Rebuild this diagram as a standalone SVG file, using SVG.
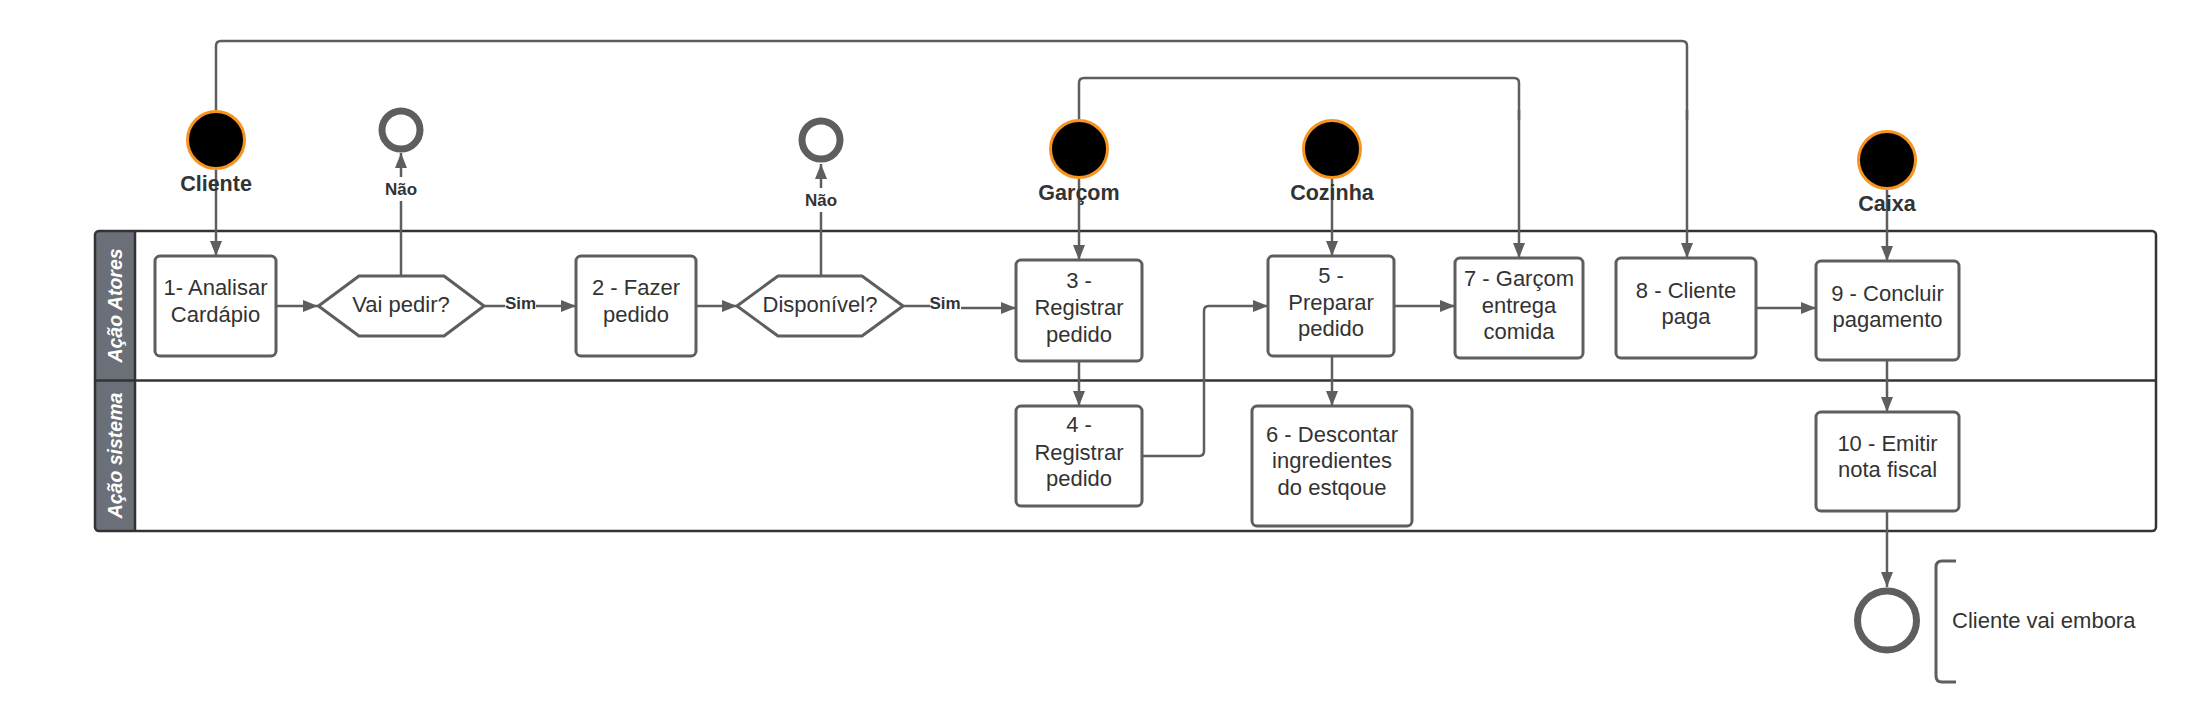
<svg xmlns="http://www.w3.org/2000/svg" width="2196" height="721" viewBox="0 0 2196 721">
<style>
text{font-family:"Liberation Sans",Arial,sans-serif;fill:#333}
.t{font-size:22px;text-anchor:middle}
.lbl{font-size:17px;font-weight:bold;text-anchor:middle}
.actor{font-size:21.5px;font-weight:bold;text-anchor:middle}
.lane{font-size:19.5px;font-weight:bold;font-style:italic;fill:#fff;text-anchor:middle}
.box{fill:#fff;stroke:#5e5e5e;stroke-width:3}
.start{fill:#000;stroke:#f7931e;stroke-width:3}
.end{fill:#fff;stroke:#5e5e5e;stroke-width:7}
.c{fill:none;stroke:#5e5e5e;stroke-width:2.5;stroke-linejoin:round}
.a{marker-end:url(#arr)}
.bg{fill:#fff}
</style>
<defs>
<marker id="arr" markerUnits="userSpaceOnUse" markerWidth="16" markerHeight="14" refX="15" refY="6" orient="auto">
<path d="M0,0 L15,6 L0,12 z" fill="#5e5e5e"/>
</marker>
</defs>
<rect width="2196" height="721" fill="#fff"/>

<g id="pool">
<path d="M99,231 H135 V531 H99 Q95,531 95,527 V235 Q95,231 99,231 z" fill="#6b6f77"/>
<rect x="95" y="231" width="2061" height="300" rx="4" fill="none" stroke="#333" stroke-width="2.5"/>
<line x1="135" y1="231" x2="135" y2="531" stroke="#333" stroke-width="2.5"/>
<line x1="95" y1="380.5" x2="2156" y2="380.5" stroke="#333" stroke-width="2.5"/>
<text class="lane" transform="translate(122,305.5) rotate(-90)">Ação Atores</text>
<text class="lane" transform="translate(122,455.5) rotate(-90)">Ação sistema</text>
</g>

<g id="connectors">
<path class="c a" d="M216,170 V256"/>
<path class="c" d="M216,110 V46 Q216,41 221,41 H1682 Q1687,41 1687,46 V120"/>
<path class="c a" d="M1687,110 V258"/>
<path class="c" d="M1079,119 V83 Q1079,78 1084,78 H1514 Q1519,78 1519,83 V120"/>
<path class="c a" d="M1519,110 V258"/>
<path class="c a" d="M1079,179 V260"/>
<path class="c a" d="M1332,179 V256"/>
<path class="c a" d="M1887,190 V261"/>
<path class="c a" d="M276,306 H318"/>
<path class="c a" d="M484,306 H576"/>
<path class="c a" d="M696,306 H737"/>
<path class="c a" d="M903,306 H945 V308 H1016"/>
<path class="c a" d="M401,276 V153"/>
<path class="c a" d="M821,276 V164"/>
<path class="c a" d="M1079,361 V406"/>
<path class="c a" d="M1142,456 H1199 Q1204,456 1204,451 V311 Q1204,306 1209,306 H1268"/>
<path class="c a" d="M1394,306 H1455"/>
<path class="c a" d="M1332,356 V406"/>
<path class="c a" d="M1756,308 H1816"/>
<path class="c a" d="M1887,360 V412"/>
<path class="c a" d="M1887,511 V587"/>
<rect class="bg" x="383" y="177" width="36" height="24"/>
<text class="lbl" x="401" y="195">Não</text>
<rect class="bg" x="803" y="188" width="36" height="24"/>
<text class="lbl" x="821" y="206">Não</text>
<rect class="bg" x="505" y="295" width="31" height="20"/>
<text class="lbl" x="520.5" y="309">Sim</text>
<rect class="bg" x="930" y="295" width="31" height="20"/>
<text class="lbl" x="945" y="309">Sim</text>
</g>

<g id="actor-cliente">
<circle class="start" cx="216" cy="140" r="28.5"/>
<text class="actor" x="216" y="191">Cliente</text>
</g>
<g id="actor-garcom">
<circle class="start" cx="1079" cy="149" r="28.5"/>
<text class="actor" x="1079" y="200">Garçom</text>
</g>
<g id="actor-cozinha">
<circle class="start" cx="1332" cy="149" r="28.5"/>
<text class="actor" x="1332" y="200">Cozinha</text>
</g>
<g id="actor-caixa">
<circle class="start" cx="1887" cy="160" r="28.5"/>
<text class="actor" x="1887" y="211">Caixa</text>
</g>

<g id="end-nao-1"><circle class="end" cx="401" cy="130" r="19"/></g>
<g id="end-nao-2"><circle class="end" cx="821" cy="140" r="19"/></g>
<g id="end-final"><circle class="end" cx="1887" cy="620.5" r="29.5"/></g>

<g id="n1">
<rect class="box" x="155" y="256" width="121" height="100" rx="5"/>
<text class="t" x="215.5" y="295">1- Analisar</text>
<text class="t" x="215.5" y="322">Cardápio</text>
</g>
<g id="d1">
<path class="box" d="M318.5,306 L359,276 H444 L484,306 L444,336 H359 z" stroke-linejoin="round"/>
<text class="t" x="401" y="312">Vai pedir?</text>
</g>
<g id="n2">
<rect class="box" x="576" y="256" width="120" height="100" rx="5"/>
<text class="t" x="636" y="295">2 - Fazer</text>
<text class="t" x="636" y="322">pedido</text>
</g>
<g id="d2">
<path class="box" d="M737,306 L778,276 H862 L903,306 L862,336 H778 z" stroke-linejoin="round"/>
<text class="t" x="820" y="312">Disponível?</text>
</g>
<g id="n3">
<rect class="box" x="1016" y="260" width="126" height="101" rx="5"/>
<text class="t" x="1079" y="288">3 -</text>
<text class="t" x="1079" y="315">Registrar</text>
<text class="t" x="1079" y="342">pedido</text>
</g>
<g id="n4">
<rect class="box" x="1016" y="406" width="126" height="100" rx="5"/>
<text class="t" x="1079" y="432">4 -</text>
<text class="t" x="1079" y="460">Registrar</text>
<text class="t" x="1079" y="486">pedido</text>
</g>
<g id="n5">
<rect class="box" x="1268" y="256" width="126" height="100" rx="5"/>
<text class="t" x="1331" y="283">5 -</text>
<text class="t" x="1331" y="310">Preparar</text>
<text class="t" x="1331" y="336">pedido</text>
</g>
<g id="n6">
<rect class="box" x="1252" y="406" width="160" height="120" rx="5"/>
<text class="t" x="1332" y="442">6 - Descontar</text>
<text class="t" x="1332" y="468">ingredientes</text>
<text class="t" x="1332" y="495">do estqoue</text>
</g>
<g id="n7">
<rect class="box" x="1455" y="258" width="128" height="100" rx="5"/>
<text class="t" x="1519" y="286">7 - Garçom</text>
<text class="t" x="1519" y="313">entrega</text>
<text class="t" x="1519" y="339">comida</text>
</g>
<g id="n8">
<rect class="box" x="1616" y="258" width="140" height="100" rx="5"/>
<text class="t" x="1686" y="298">8 - Cliente</text>
<text class="t" x="1686" y="324">paga</text>
</g>
<g id="n9">
<rect class="box" x="1816" y="261" width="143" height="99" rx="5"/>
<text class="t" x="1887.5" y="301">9 - Concluir</text>
<text class="t" x="1887.5" y="327">pagamento</text>
</g>
<g id="n10">
<rect class="box" x="1816" y="412" width="143" height="99" rx="5"/>
<text class="t" x="1887.5" y="451">10 - Emitir</text>
<text class="t" x="1887.5" y="477">nota fiscal</text>
</g>

<g id="annotation">
<path d="M1956,561 H1942 Q1936,561 1936,567 V676 Q1936,682 1942,682 H1956" fill="none" stroke="#5e5e5e" stroke-width="3"/>
<text x="1952" y="628" style="font-size:22px">Cliente vai embora</text>
</g>
</svg>
